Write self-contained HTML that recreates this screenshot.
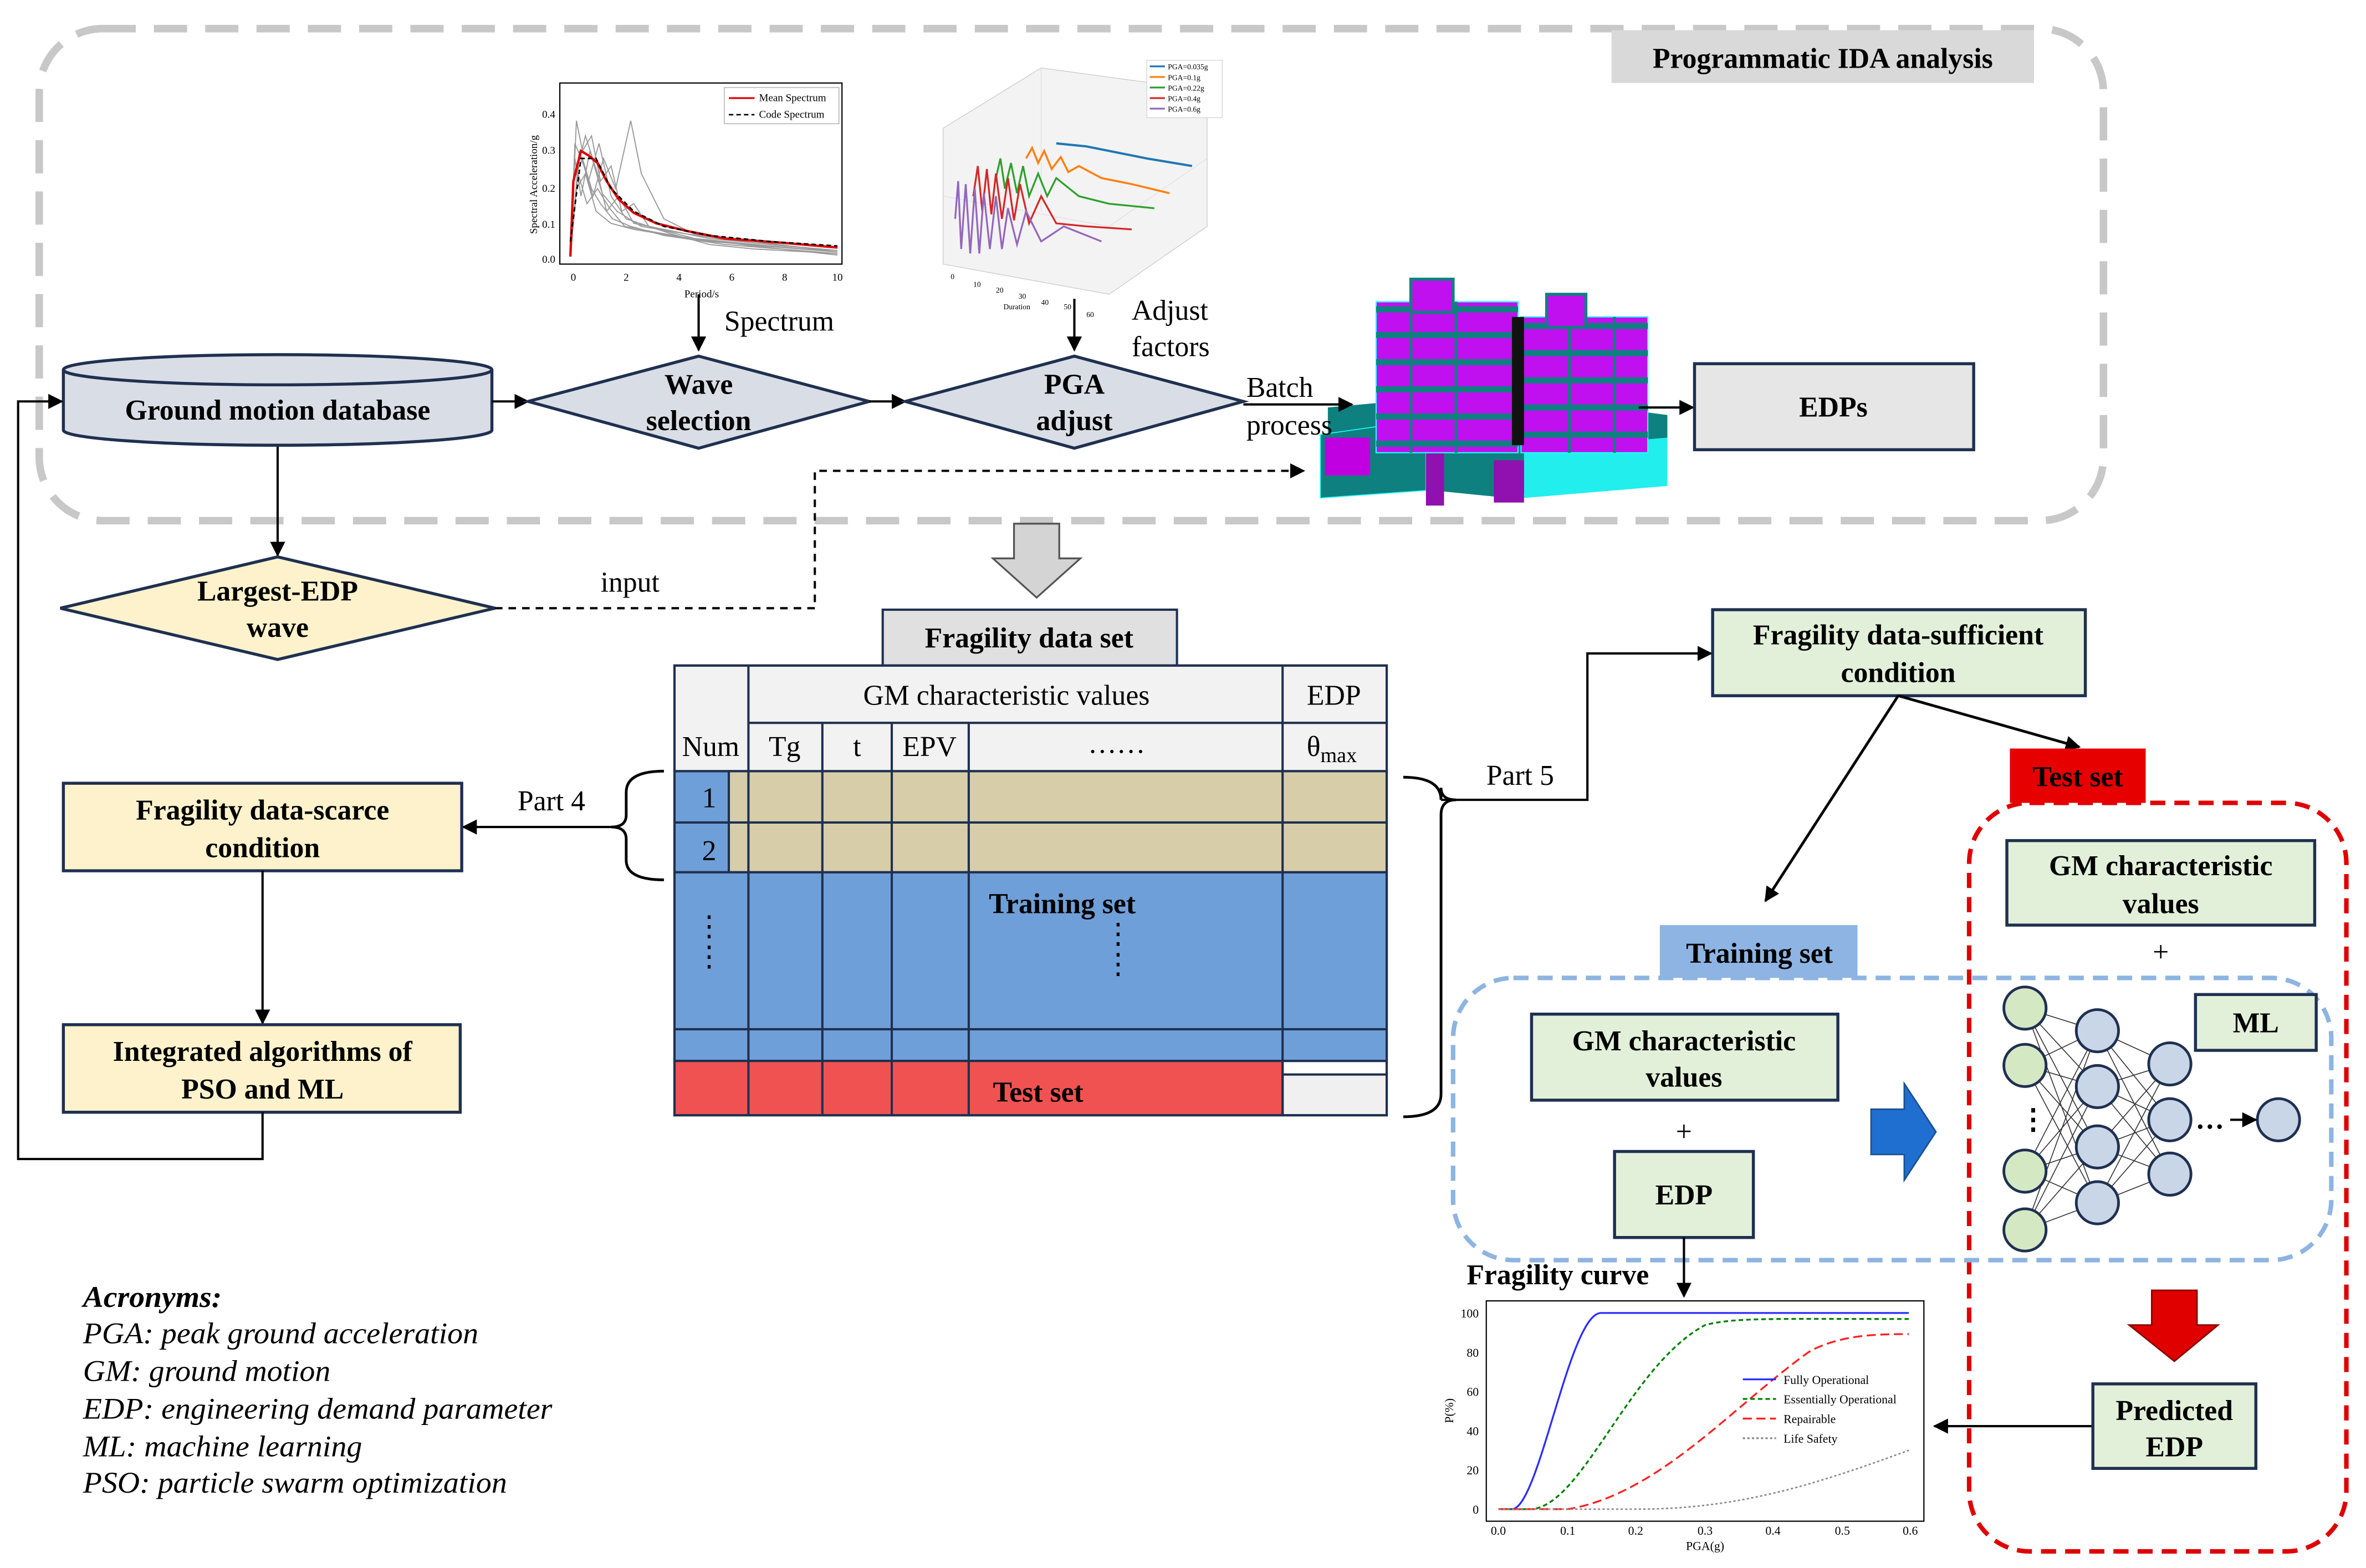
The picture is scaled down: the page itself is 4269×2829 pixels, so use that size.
<!DOCTYPE html>
<html><head><meta charset="utf-8"><style>
html,body{margin:0;padding:0;background:#fff}
svg{display:block}
text{font-family:"Liberation Serif",serif;fill:#000}
.b{font-weight:bold;font-size:19px}
.n{font-size:19px}
</style></head><body>
<svg width="4269" height="2829" viewBox="0 0 1568 1039" preserveAspectRatio="none" xmlns="http://www.w3.org/2000/svg">
<defs>
<marker id="ar" markerWidth="10" markerHeight="10" refX="9" refY="5" orient="auto" markerUnits="userSpaceOnUse"><path d="M0,0 L10,5 L0,10 z" fill="#000"/></marker>
</defs>
<rect width="1568" height="1039" fill="#fff"/>
<!-- IDA dashed region -->
<rect x="26" y="19" width="1368" height="326" rx="42" fill="none" stroke="#c8c8c8" stroke-width="5" stroke-dasharray="22,12"/>
<rect x="1068" y="20" width="280" height="35" fill="#d9d9d9"/>
<text x="1208" y="45" class="b" text-anchor="middle">Programmatic IDA analysis</text>

<!-- spectrum chart -->
<g>
<rect x="371" y="55" width="187" height="120" fill="#fff" stroke="#000" stroke-width="0.8"/>
<g fill="none" stroke="#999" stroke-width="0.7">
<polyline points="378,170 382,80 386,100 392,90 398,120 405,110 412,140 420,135 430,150 445,155 470,162 500,165 555,168"/>
<polyline points="378,170 381,95 387,110 393,130 400,105 408,125 418,80 425,115 440,145 460,155 500,160 555,167"/>
<polyline points="378,170 383,110 388,90 396,115 402,140 410,130 420,148 440,152 470,158 520,163 555,166"/>
<polyline points="378,170 380,120 386,105 392,125 398,135 406,145 418,150 440,156 480,162 555,168"/>
<polyline points="378,170 384,100 390,120 397,95 405,130 415,145 430,150 460,158 500,162 555,167"/>
<polyline points="378,170 382,125 388,115 395,140 405,148 420,152 450,157 500,163 555,169"/>
<polyline points="378,170 381,105 385,130 391,100 399,128 409,140 425,150 455,155 500,161 555,166"/>
<polyline points="378,170 383,115 389,135 396,125 404,138 414,150 435,154 470,160 555,167"/>
</g>
<polyline points="378,170 380,120 385,100 390,103 396,108 402,120 410,132 420,141 435,148 455,153 480,158 520,161 555,164" fill="none" stroke="#e00000" stroke-width="1.6"/>
<polyline points="378,160 385,105 395,105 405,125 420,140 440,150 470,156 510,160 555,163" fill="none" stroke="#000" stroke-width="1" stroke-dasharray="3,2"/>
<rect x="480" y="58" width="76" height="24" fill="#fff" stroke="#aaa" stroke-width="0.5"/>
<line x1="483" y1="65" x2="500" y2="65" stroke="#e00000" stroke-width="1.2"/>
<line x1="483" y1="76" x2="500" y2="76" stroke="#000" stroke-width="1" stroke-dasharray="3,2"/>
<text x="503" y="67" font-size="7">Mean Spectrum</text>
<text x="503" y="78" font-size="7">Code Spectrum</text>
<g font-size="7" text-anchor="end"><text x="368" y="174">0.0</text><text x="368" y="151">0.1</text><text x="368" y="127">0.2</text><text x="368" y="102">0.3</text><text x="368" y="78">0.4</text></g>
<g font-size="7" text-anchor="middle"><text x="380" y="186">0</text><text x="415" y="186">2</text><text x="450" y="186">4</text><text x="485" y="186">6</text><text x="520" y="186">8</text><text x="555" y="186">10</text><text x="465" y="197">Period/s</text></g>
<text x="356" y="155" font-size="7" transform="rotate(-90 356 155)">Spectral Acceleration/g</text>
</g>
<line x1="463" y1="195" x2="463" y2="232" stroke="#000" stroke-width="1.5" marker-end="url(#ar)"/>
<text x="480" y="219" class="n">Spectrum</text>

<!-- 3D PGA plot -->
<g>
<polygon points="625,85 690,45 800,60 800,150 735,195 625,175" fill="#f3f3f3" stroke="#ccc" stroke-width="0.5"/>
<g stroke="#ddd" stroke-width="0.4"><line x1="625" y1="130" x2="735" y2="150"/><line x1="690" y1="45" x2="690" y2="140"/><line x1="735" y1="150" x2="800" y2="105"/></g>
<polyline points="700,95 720,97 740,101 760,105 790,110" fill="none" stroke="#1f77b4" stroke-width="1.5"/>
<polyline points="680,105 684,98 688,108 692,100 697,112 703,104 708,114 715,110 730,118 750,122 775,128" fill="none" stroke="#ff7f0e" stroke-width="1.3"/>
<polyline points="660,118 663,105 666,125 670,108 674,128 678,110 682,130 688,115 694,130 700,118 715,130 735,135 765,138" fill="none" stroke="#2ca02c" stroke-width="1.2"/>
<polyline points="645,130 648,110 651,140 654,112 657,142 660,115 664,145 668,118 672,146 676,122 682,148 690,130 700,148 720,150 750,152" fill="none" stroke="#d62728" stroke-width="1.2"/>
<polyline points="633,145 635,120 637,165 640,122 643,168 646,125 649,168 652,128 656,165 660,130 664,165 668,138 674,162 680,140 690,160 705,150 730,160" fill="none" stroke="#9467bd" stroke-width="1.2"/>
<rect x="760" y="40" width="50" height="38" fill="#fff" stroke="#ccc" stroke-width="0.4"/>
<g font-size="5"><text x="774" y="46">PGA=0.035g</text><text x="774" y="53">PGA=0.1g</text><text x="774" y="60">PGA=0.22g</text><text x="774" y="67">PGA=0.4g</text><text x="774" y="74">PGA=0.6g</text></g>
<g stroke-width="1.2"><line x1="762" y1="44" x2="772" y2="44" stroke="#1f77b4"/><line x1="762" y1="51" x2="772" y2="51" stroke="#ff7f0e"/><line x1="762" y1="58" x2="772" y2="58" stroke="#2ca02c"/><line x1="762" y1="65" x2="772" y2="65" stroke="#d62728"/><line x1="762" y1="72" x2="772" y2="72" stroke="#9467bd"/></g>
<g font-size="5"><text x="630" y="185">0</text><text x="645" y="190">10</text><text x="660" y="194">20</text><text x="675" y="198">30</text><text x="690" y="202">40</text><text x="705" y="205">50</text><text x="720" y="210">60</text><text x="665" y="205">Duration</text></g>
</g>
<line x1="712" y1="198" x2="712" y2="232" stroke="#000" stroke-width="1.5" marker-end="url(#ar)"/>
<text x="750" y="212" class="n">Adjust</text>
<text x="750" y="236" class="n">factors</text>

<!-- building -->
<g>
<polygon points="880,270 990,260 1105,275 1105,300 1000,330 880,318" fill="#0e8080"/>
<polygon points="1010,298 1105,290 1105,322 1010,330" fill="#2ee"/>
<polygon points="875,288 945,278 945,325 875,330" fill="#0e8080" stroke="#2ff" stroke-width="0.6"/>
<rect x="878" y="290" width="30" height="25" fill="#c000e0"/>
<rect x="990" y="305" width="20" height="28" fill="#9010b0"/>
<rect x="945" y="300" width="12" height="35" fill="#9010b0"/>
<rect x="912" y="200" width="94" height="100" fill="#c010f0" stroke="#2ff" stroke-width="0.8"/>
<rect x="1008" y="210" width="84" height="90" fill="#c010f0" stroke="#2ff" stroke-width="0.8"/>
<g stroke="#0e8080" stroke-width="4">
<line x1="912" y1="205" x2="1006" y2="205"/><line x1="912" y1="222" x2="1006" y2="222"/><line x1="912" y1="240" x2="1006" y2="240"/><line x1="912" y1="258" x2="1006" y2="258"/><line x1="912" y1="276" x2="1006" y2="276"/><line x1="912" y1="294" x2="1006" y2="294"/>
<line x1="1008" y1="216" x2="1092" y2="216"/><line x1="1008" y1="234" x2="1092" y2="234"/><line x1="1008" y1="252" x2="1092" y2="252"/><line x1="1008" y1="270" x2="1092" y2="270"/><line x1="1008" y1="288" x2="1092" y2="288"/>
</g>
<g stroke="#0e8080" stroke-width="2"><line x1="935" y1="200" x2="935" y2="300"/><line x1="965" y1="200" x2="965" y2="300"/><line x1="1040" y1="210" x2="1040" y2="300"/><line x1="1070" y1="210" x2="1070" y2="300"/></g>
<rect x="935" y="185" width="28" height="22" fill="#c010f0" stroke="#0e8080" stroke-width="2"/>
<rect x="1025" y="195" width="26" height="22" fill="#c010f0" stroke="#0e8080" stroke-width="2"/>
<rect x="1002" y="210" width="8" height="85" fill="#111"/>
</g>

<!-- Ground motion database cylinder -->
<path d="M42,245 L42,285 A142,10 0 0 0 326,285 L326,245" fill="#d9dde5" stroke="#1f3050" stroke-width="2"/>
<ellipse cx="184" cy="245" rx="142" ry="10" fill="#d9dde5" stroke="#1f3050" stroke-width="2"/>
<text x="184" y="278" class="b" text-anchor="middle">Ground motion database</text>
<line x1="326" y1="266" x2="350" y2="266" stroke="#000" stroke-width="1.5" marker-end="url(#ar)"/>

<!-- diamonds -->
<polygon points="350,266 463,236 576,266 463,297" fill="#d9dde5" stroke="#1f3050" stroke-width="2"/>
<text x="463" y="261" class="b" text-anchor="middle">Wave</text>
<text x="463" y="285" class="b" text-anchor="middle">selection</text>
<line x1="576" y1="266" x2="600" y2="266" stroke="#000" stroke-width="1.5" marker-end="url(#ar)"/>
<polygon points="600,266 712,236 824,266 712,297" fill="#d9dde5" stroke="#1f3050" stroke-width="2"/>
<text x="712" y="261" class="b" text-anchor="middle">PGA</text>
<text x="712" y="285" class="b" text-anchor="middle">adjust</text>
<line x1="824" y1="268" x2="896" y2="268" stroke="#000" stroke-width="1.5" marker-end="url(#ar)"/>
<text x="826" y="263" class="n">Batch</text>
<text x="826" y="288" class="n">process</text>

<line x1="1086" y1="270" x2="1122" y2="270" stroke="#000" stroke-width="1.5" marker-end="url(#ar)"/>
<rect x="1123" y="241" width="185" height="57" fill="#e6e6e6" stroke="#1f3050" stroke-width="2"/>
<text x="1215" y="276" class="b" text-anchor="middle">EDPs</text>

<!-- down arrow gray -->
<polygon points="672,347 702,347 702,370 716,370 687,396 658,370 672,370" fill="#d4d4d4" stroke="#555" stroke-width="1.2"/>

<!-- Largest EDP wave -->
<line x1="184" y1="296" x2="184" y2="368" stroke="#000" stroke-width="1.5" marker-end="url(#ar)"/>
<polygon points="40,403 184,369 328,403 184,437" fill="#fdf2cc" stroke="#1f3050" stroke-width="2"/>
<text x="184" y="398" class="b" text-anchor="middle">Largest-EDP</text>
<text x="184" y="422" class="b" text-anchor="middle">wave</text>
<polyline points="328,403 540,403 540,312 864,312" fill="none" stroke="#000" stroke-width="1.5" stroke-dasharray="5,4" marker-end="url(#ar)"/>
<text x="398" y="392" class="n">input</text>

<!-- Fragility data set -->
<rect x="585" y="404" width="195" height="37" fill="#e0e0e0" stroke="#1f3050" stroke-width="1.5"/>
<text x="682" y="429" class="b" text-anchor="middle">Fragility data set</text>

<!-- Table -->
<g stroke="#1f3050" stroke-width="1.5">
<rect x="447" y="441" width="472" height="70" fill="#f2f2f2"/>
<rect x="483" y="511" width="436" height="67" fill="#d7cea9"/>
<rect x="447" y="511" width="36" height="67" fill="#6f9fd8"/>
<rect x="447" y="578" width="472" height="125" fill="#6f9fd8"/>
<rect x="447" y="703" width="403" height="36" fill="#f05252"/>
<rect x="850" y="712" width="69" height="27" fill="#f0f0f0"/>
<line x1="850" y1="703" x2="919" y2="703"/>
<line x1="447" y1="682" x2="919" y2="682"/>
<line x1="447" y1="545" x2="919" y2="545"/>
<line x1="496" y1="479" x2="919" y2="479"/>
<line x1="496" y1="441" x2="496" y2="511"/>
<line x1="850" y1="441" x2="850" y2="739"/>
<line x1="496" y1="578" x2="496" y2="739"/><line x1="545" y1="479" x2="545" y2="511"/><line x1="545" y1="511" x2="545" y2="739"/>
<line x1="591" y1="479" x2="591" y2="739"/><line x1="642" y1="479" x2="642" y2="739"/>
<line x1="496" y1="511" x2="496" y2="578"/>
<rect x="447" y="441" width="472" height="298" fill="none"/>
</g>
<text x="667" y="467" class="n" text-anchor="middle">GM characteristic values</text>
<text x="884" y="467" class="n" text-anchor="middle">EDP</text>
<text x="471" y="501" class="n" text-anchor="middle">Num</text>
<text x="520" y="501" class="n" text-anchor="middle">Tg</text>
<text x="568" y="501" class="n" text-anchor="middle">t</text>
<text x="616" y="501" class="n" text-anchor="middle">EPV</text>
<text x="740" y="499" class="n" text-anchor="middle">……</text>
<text x="866" y="501" class="n">θ<tspan font-size="14" dy="4">max</tspan></text>
<text x="470" y="535" class="n" text-anchor="middle">1</text>
<text x="470" y="570" class="n" text-anchor="middle">2</text>
<text x="704" y="605" class="b" text-anchor="middle">Training set</text>
<text x="470" y="620" class="n" text-anchor="middle" font-size="14">⋮</text>
<text x="470" y="640" class="n" text-anchor="middle" font-size="14">⋮</text>
<text x="741" y="625" class="n" text-anchor="middle" font-size="14">⋮</text>
<text x="741" y="645" class="n" text-anchor="middle" font-size="14">⋮</text>
<text x="688" y="730" class="b" text-anchor="middle">Test set</text>

<!-- left brace -->
<path d="M440,511 Q415,511 415,525 L415,540 Q415,548 405,548 Q415,548 415,556 L415,570 Q415,583 440,583" fill="none" stroke="#000" stroke-width="1.8"/>
<line x1="405" y1="548" x2="307" y2="548" stroke="#000" stroke-width="1.5" marker-end="url(#ar)"/>
<text x="343" y="537" class="n">Part 4</text>
<rect x="42" y="519" width="264" height="58" fill="#fdf2cc" stroke="#1f3050" stroke-width="2"/>
<text x="174" y="543" class="b" text-anchor="middle">Fragility data-scarce</text>
<text x="174" y="568" class="b" text-anchor="middle">condition</text>
<line x1="174" y1="577" x2="174" y2="678" stroke="#000" stroke-width="1.5" marker-end="url(#ar)"/>
<rect x="42" y="679" width="263" height="58" fill="#fdf2cc" stroke="#1f3050" stroke-width="2"/>
<text x="174" y="703" class="b" text-anchor="middle">Integrated algorithms of</text>
<text x="174" y="728" class="b" text-anchor="middle">PSO and ML</text>
<polyline points="174,737 174,768 12,768 12,266 41,266" fill="none" stroke="#000" stroke-width="1.5" marker-end="url(#ar)"/>

<!-- right brace -->
<path d="M930,515 Q955,515 955,530 L955,522 Q955,530 965,530 Q955,530 955,540 L955,725 Q955,740 930,740" fill="none" stroke="#000" stroke-width="1.8"/>
<polyline points="955,530 1052,530 1052,433 1134,433" fill="none" stroke="#000" stroke-width="1.5" marker-end="url(#ar)"/>
<text x="985" y="520" class="n">Part 5</text>
<rect x="1135" y="404" width="247" height="57" fill="#e2f0d9" stroke="#1f3050" stroke-width="2"/>
<text x="1258" y="427" class="b" text-anchor="middle">Fragility data-sufficient</text>
<text x="1258" y="452" class="b" text-anchor="middle">condition</text>
<line x1="1258" y1="461" x2="1378" y2="495" stroke="#000" stroke-width="1.8" marker-end="url(#ar)"/>
<line x1="1258" y1="461" x2="1170" y2="597" stroke="#000" stroke-width="1.8" marker-end="url(#ar)"/>

<!-- Test set region -->
<rect x="1305" y="532" width="250" height="496" rx="40" fill="none" stroke="#e00000" stroke-width="3" stroke-dasharray="10,6"/>
<rect x="1332" y="496" width="90" height="36" fill="#e60000"/>
<text x="1377" y="521" class="b" text-anchor="middle">Test set</text>

<!-- Training set region -->
<rect x="963" y="648" width="582" height="187" rx="40" fill="none" stroke="#8db4e2" stroke-width="3" stroke-dasharray="10,6"/>
<rect x="1100" y="613" width="131" height="35" fill="#8db4e2"/>
<text x="1166" y="638" class="b" text-anchor="middle">Training set</text>

<rect x="1015" y="672" width="203" height="57" fill="#e2f0d9" stroke="#1f3050" stroke-width="2"/>
<text x="1116" y="696" class="b" text-anchor="middle">GM characteristic</text>
<text x="1116" y="720" class="b" text-anchor="middle">values</text>
<text x="1116" y="756" class="n" text-anchor="middle">+</text>
<rect x="1070" y="763" width="92" height="57" fill="#e2f0d9" stroke="#1f3050" stroke-width="2"/>
<text x="1116" y="798" class="b" text-anchor="middle">EDP</text>
<polygon points="1240,735 1262,735 1262,718 1283,750 1262,782 1262,765 1240,765" fill="#1f6fd0" stroke="#1a4f90" stroke-width="1"/>

<rect x="1330" y="557" width="204" height="56" fill="#e2f0d9" stroke="#1f3050" stroke-width="2"/>
<text x="1432" y="580" class="b" text-anchor="middle">GM characteristic</text>
<text x="1432" y="605" class="b" text-anchor="middle">values</text>
<text x="1432" y="637" class="n" text-anchor="middle">+</text>
<rect x="1455" y="659" width="80" height="37" fill="#e2f0d9" stroke="#1f3050" stroke-width="2"/>
<text x="1495" y="684" class="b" text-anchor="middle">ML</text>

<!-- neural net -->
<g stroke="#333" stroke-width="0.6">
<line x1="1342" y1="668" x2="1390" y2="683"/><line x1="1342" y1="668" x2="1390" y2="720"/><line x1="1342" y1="668" x2="1390" y2="760"/><line x1="1342" y1="668" x2="1390" y2="797"/>
<line x1="1342" y1="706" x2="1390" y2="683"/><line x1="1342" y1="706" x2="1390" y2="720"/><line x1="1342" y1="706" x2="1390" y2="760"/><line x1="1342" y1="706" x2="1390" y2="797"/>
<line x1="1342" y1="776" x2="1390" y2="683"/><line x1="1342" y1="776" x2="1390" y2="720"/><line x1="1342" y1="776" x2="1390" y2="760"/><line x1="1342" y1="776" x2="1390" y2="797"/>
<line x1="1342" y1="815" x2="1390" y2="683"/><line x1="1342" y1="815" x2="1390" y2="720"/><line x1="1342" y1="815" x2="1390" y2="760"/><line x1="1342" y1="815" x2="1390" y2="797"/>
<line x1="1390" y1="683" x2="1438" y2="705"/><line x1="1390" y1="683" x2="1438" y2="742"/><line x1="1390" y1="683" x2="1438" y2="778"/>
<line x1="1390" y1="720" x2="1438" y2="705"/><line x1="1390" y1="720" x2="1438" y2="742"/><line x1="1390" y1="720" x2="1438" y2="778"/>
<line x1="1390" y1="760" x2="1438" y2="705"/><line x1="1390" y1="760" x2="1438" y2="742"/><line x1="1390" y1="760" x2="1438" y2="778"/>
<line x1="1390" y1="797" x2="1438" y2="705"/><line x1="1390" y1="797" x2="1438" y2="742"/><line x1="1390" y1="797" x2="1438" y2="778"/>
</g>
<g stroke="#1f3050" stroke-width="1.8">
<g fill="#d5e8c4"><circle cx="1342" cy="668" r="14"/><circle cx="1342" cy="706" r="14"/><circle cx="1342" cy="776" r="14"/><circle cx="1342" cy="815" r="14"/></g>
<g fill="#c8d6e8"><circle cx="1390" cy="683" r="14"/><circle cx="1390" cy="720" r="14"/><circle cx="1390" cy="760" r="14"/><circle cx="1390" cy="797" r="14"/>
<circle cx="1438" cy="705" r="14"/><circle cx="1438" cy="742" r="14"/><circle cx="1438" cy="778" r="14"/>
<circle cx="1510" cy="742" r="14"/></g>
</g>
<text x="1338" y="748" class="b" font-size="22">⋮</text>
<text x="1455" y="748" class="b" font-size="20">…</text>
<line x1="1478" y1="742" x2="1495" y2="742" stroke="#000" stroke-width="1.5" marker-end="url(#ar)"/>

<polygon points="1426,855 1456,855 1456,878 1470,878 1441,902 1411,878 1426,878" fill="#e00000" stroke="#800" stroke-width="1"/>
<rect x="1387" y="917" width="108" height="56" fill="#e2f0d9" stroke="#1f3050" stroke-width="2"/>
<text x="1441" y="941" class="b" text-anchor="middle">Predicted</text>
<text x="1441" y="965" class="b" text-anchor="middle">EDP</text>
<line x1="1386" y1="945" x2="1282" y2="945" stroke="#000" stroke-width="1.5" marker-end="url(#ar)"/>

<!-- fragility curve -->
<line x1="1116" y1="820" x2="1116" y2="859" stroke="#000" stroke-width="1.5" marker-end="url(#ar)"/>
<text x="972" y="851" class="b">Fragility curve</text>
<rect x="985" y="862" width="290" height="146" fill="#fff" stroke="#000" stroke-width="0.8"/>
<path d="M993,1000 L1002,1000 C1020,1000 1040,870 1061,870 L1265,870" fill="none" stroke="#2b2bff" stroke-width="1.2"/>
<path d="M993,1000 L1016,1000 C1050,995 1080,905 1130,878 C1150,873 1170,874 1265,874" fill="none" stroke="#008000" stroke-width="1.2" stroke-dasharray="3,2"/>
<path d="M993,1000 L1039,1000 C1100,990 1150,930 1200,895 C1220,885 1240,884 1265,884" fill="none" stroke="#ff2020" stroke-width="1.2" stroke-dasharray="6,3"/>
<path d="M993,1000 L1085,1000 C1150,1000 1200,985 1265,961" fill="none" stroke="#888" stroke-width="1" stroke-dasharray="1.5,1.5"/>
<g font-size="8" text-anchor="end"><text x="980" y="1003">0</text><text x="980" y="977">20</text><text x="980" y="951">40</text><text x="980" y="925">60</text><text x="980" y="899">80</text><text x="980" y="873">100</text></g>
<g font-size="8" text-anchor="middle"><text x="993" y="1017">0.0</text><text x="1039" y="1017">0.1</text><text x="1084" y="1017">0.2</text><text x="1130" y="1017">0.3</text><text x="1175" y="1017">0.4</text><text x="1221" y="1017">0.5</text><text x="1266" y="1017">0.6</text><text x="1130" y="1027">PGA(g)</text></g>
<text x="963" y="943" font-size="8" transform="rotate(-90 963 943)">P(%)</text>
<g font-size="8"><text x="1182" y="917">Fully Operational</text><text x="1182" y="930">Essentially Operational</text><text x="1182" y="943">Repairable</text><text x="1182" y="956">Life Safety</text></g>
<g stroke-width="1.2"><line x1="1155" y1="914" x2="1177" y2="914" stroke="#2b2bff"/><line x1="1155" y1="927" x2="1177" y2="927" stroke="#008000" stroke-dasharray="3,2"/><line x1="1155" y1="940" x2="1177" y2="940" stroke="#ff2020" stroke-dasharray="6,3"/><line x1="1155" y1="953" x2="1177" y2="953" stroke="#888" stroke-dasharray="1.5,1.5"/></g>

<!-- acronyms -->
<g font-style="italic" font-size="20">
<text x="55" y="866" font-weight="bold" textLength="92" lengthAdjust="spacingAndGlyphs">Acronyms:</text>
<text x="55" y="890" textLength="262" lengthAdjust="spacingAndGlyphs">PGA: peak ground acceleration</text>
<text x="55" y="915" textLength="164" lengthAdjust="spacingAndGlyphs">GM: ground motion</text>
<text x="55" y="940" textLength="311" lengthAdjust="spacingAndGlyphs">EDP: engineering demand parameter</text>
<text x="55" y="965" textLength="185" lengthAdjust="spacingAndGlyphs">ML: machine learning</text>
<text x="55" y="989" textLength="281" lengthAdjust="spacingAndGlyphs">PSO: particle swarm optimization</text>
</g>
</svg>
</body></html>
